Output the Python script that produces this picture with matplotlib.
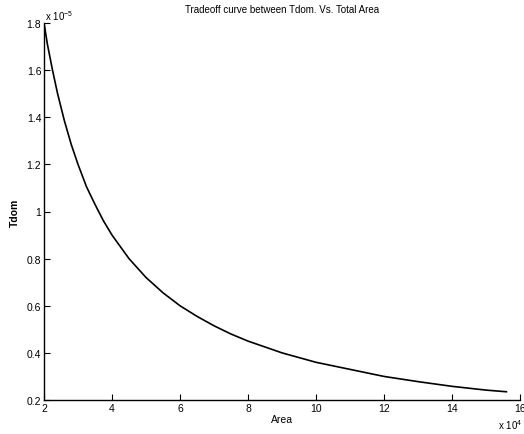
import matplotlib
matplotlib.use("Agg")
import matplotlib.pyplot as plt
import numpy as np

plt.rcParams['font.family'] = ['Liberation Sans', 'DejaVu Sans']
plt.rcParams['mathtext.default'] = 'regular'

# Area (x 10^4) and Tdom (x 10^-5)
area = [2.0, 2.1, 2.25, 2.4, 2.6, 2.8, 3.0, 3.25, 3.5, 3.75, 4.0, 4.5, 5.0, 5.5, 6.0,
        6.5, 7.0, 7.5, 8.0, 9.0, 10.0, 11.0, 12.0, 13.0, 14.0, 15.0, 15.6]
tdom = [1.80, 1.71, 1.60, 1.50, 1.385, 1.285, 1.20, 1.105, 1.03, 0.96, 0.90, 0.80, 0.72,
        0.655, 0.60, 0.555, 0.515, 0.48, 0.45, 0.40, 0.36, 0.33, 0.30, 0.278, 0.258, 0.242, 0.235]

xticks = [2, 4, 6, 8, 10, 12, 14, 16]
yticks = [0.2, 0.4, 0.6, 0.8, 1.0, 1.2, 1.4, 1.6, 1.8]
ytick_labels = ["0.2", "0.4", "0.6", "0.8", "1", "1.2", "1.4", "1.6", "1.8"]

fig = plt.figure(figsize=(5.24, 4.35), dpi=100)
ax = fig.add_axes([44/524, 1-401/435, (520-44)/524, (401-24)/435])

ax.plot(area, tdom, color='black', lw=1.2)
ax.set_xlim(2, 16)
ax.set_ylim(0.2, 1.8)
ax.set_xticks(xticks)
ax.set_xticklabels([str(v) for v in xticks])
ax.set_yticks(yticks)
ax.set_yticklabels(ytick_labels)
ax.spines['top'].set_visible(False)
ax.spines['right'].set_visible(False)
for s in ['left', 'bottom']:
    ax.spines[s].set_linewidth(1.0)
ax.tick_params(direction='in', length=4, width=0.8, labelsize=7.5, pad=2)

ax.set_title("Tradeoff curve between Tdom. Vs. Total Area", fontsize=7, pad=8)
ax.set_xlabel("Area", fontsize=7.5, labelpad=1)
ax.set_ylabel("Tdom", fontsize=7.5, fontweight='bold', labelpad=5)

fig.text(45/524, 1-16/435, "x 10$^{-5}$", fontsize=7, ha='left', va='center')
fig.text(522/524, 1-425/435, "x 10$^{4}$", fontsize=7, ha='right', va='center')

fig.savefig("out.png", dpi=100)
